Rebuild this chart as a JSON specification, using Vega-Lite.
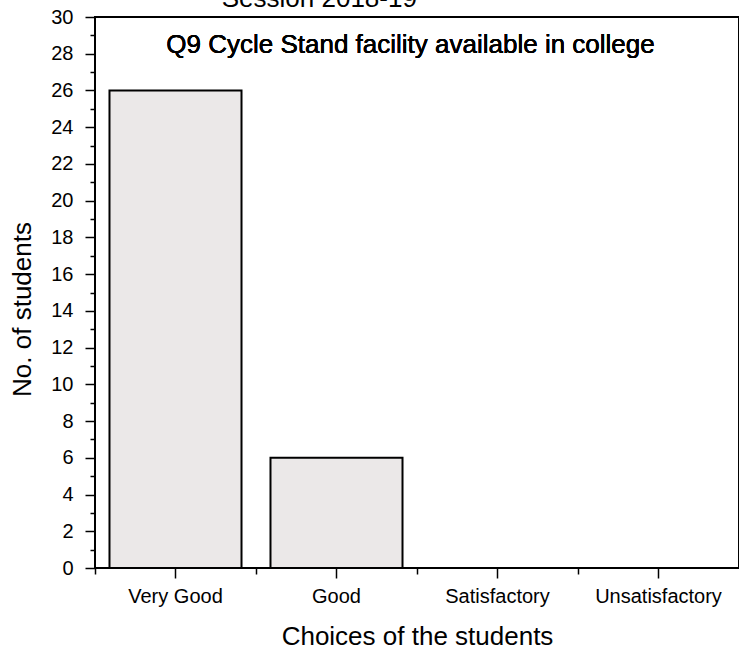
{
  "$schema": "https://vega.github.io/schema/vega-lite/v6.json",
  "autosize": "none",
  "width": 644,
  "height": 551,
  "padding": {"left": 95, "top": 17, "right": 0, "bottom": 87},
  "background": "white",
  "config": {
    "font": "Liberation Sans",
    "view": {"stroke": "black", "strokeWidth": 2},
    "axis": {"labelColor": "black", "titleColor": "black", "tickColor": "black", "domain": false, "grid": false, "titleFontWeight": "normal"}
  },
  "title": {
    "text": "Session 2018-19",
    "anchor": "start",
    "dx": 212,
    "dy": 26,
    "offset": 0,
    "baseline": "alphabetic",
    "fontSize": 26,
    "fontWeight": "normal",
    "font": "Liberation Sans",
    "color": "black"
  },
  "data": {
    "values": [
      {"choice": "Very Good", "students": 26},
      {"choice": "Good", "students": 6},
      {"choice": "Satisfactory", "students": 0},
      {"choice": "Unsatisfactory", "students": 0}
    ]
  },
  "layer": [
    {
      "mark": {"type": "bar", "fill": "#ebe8e8", "stroke": "black", "strokeWidth": 2},
      "encoding": {
        "x": {
          "field": "choice",
          "type": "nominal",
          "sort": null,
          "scale": {"paddingInner": 0.18, "paddingOuter": 0.09},
          "axis": {
            "orient": "bottom",
            "title": "Choices of the students",
            "titleFontSize": 26,
            "titlePadding": 17,
            "labelFontSize": 20,
            "labelAngle": 0,
            "labelPadding": 8,
            "tickSize": 10,
            "tickWidth": 1.5
          }
        },
        "y": {
          "field": "students",
          "type": "quantitative",
          "scale": {"domain": [0, 30], "nice": false},
          "axis": {
            "title": "No. of students",
            "titleFontSize": 26,
            "titlePadding": 15,
            "titleY": 292,
            "labelFontSize": 20,
            "labelPadding": 12,
            "values": [0,1,2,3,4,5,6,7,8,9,10,11,12,13,14,15,16,17,18,19,20,21,22,23,24,25,26,27,28,29,30],
            "labelExpr": "datum.value % 2 == 0 ? datum.label : ''",
            "tickSize": {"condition": {"test": "datum.value % 2 == 0", "value": 10}, "value": 5},
            "tickWidth": 1.5
          }
        }
      }
    },
    {
      "mark": {"type": "bar", "fillOpacity": 0, "strokeOpacity": 0},
      "encoding": {
        "x": {
          "field": "choice",
          "type": "nominal",
          "sort": null,
          "axis": {"orient": "bottom", "title": null, "labels": false, "tickOffset": -80.5, "tickSize": 6, "tickWidth": 1.5}
        },
        "y": {"field": "students", "type": "quantitative", "axis": null}
      }
    },
    {
      "mark": {"type": "text", "fontSize": 26, "baseline": "middle", "align": "center", "dx": 8, "color": "black"},
      "encoding": {
        "x": {"datum": "Good", "type": "nominal", "bandPosition": 1, "axis": null},
        "y": {"datum": 28.5, "type": "quantitative", "axis": null},
        "text": {"value": "Q9 Cycle Stand facility available in college"}
      }
    }
  ],
  "resolve": {"axis": {"x": "independent", "y": "independent"}}
}
